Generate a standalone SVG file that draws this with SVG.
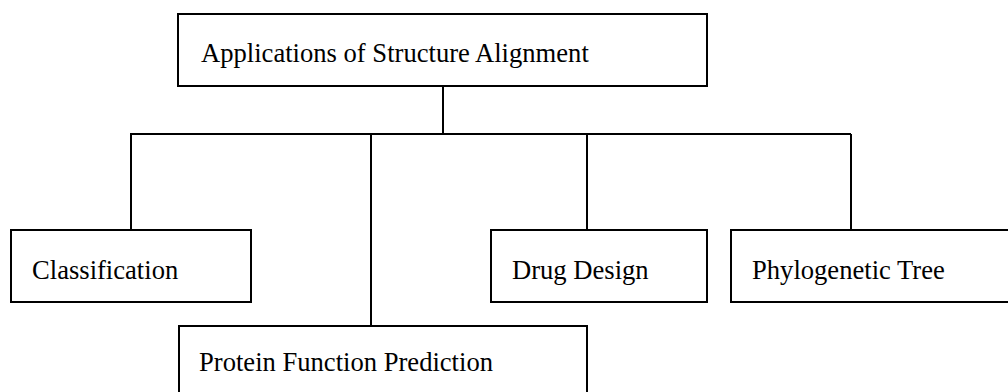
<svg xmlns="http://www.w3.org/2000/svg" width="1008" height="392" viewBox="0 0 1008 392">
  <style>
    .box { fill: #ffffff; stroke: #000000; stroke-width: 2; }
    .link { fill: none; stroke: #000000; stroke-width: 2; }
    .label { font-family: "Liberation Serif", "Times New Roman", serif; font-size: 26.6px; fill: #000000; }
  </style>
  <rect width="1008" height="392" fill="#ffffff"/>

  <!-- tree connectors -->
  <g id="connectors">
    <line class="link" x1="443" y1="86" x2="443" y2="134"/>
    <line class="link" x1="130" y1="134" x2="851" y2="134"/>
    <line class="link" x1="131" y1="134" x2="131" y2="230"/>
    <line class="link" x1="371" y1="134" x2="371" y2="326"/>
    <line class="link" x1="587" y1="134" x2="587" y2="230"/>
    <line class="link" x1="851" y1="134" x2="851" y2="230"/>
  </g>

  <g id="root">
    <rect class="box" x="178" y="14" width="529" height="72"/>
    <text class="label" x="201" y="62">Applications of Structure Alignment</text>
  </g>

  <g id="classification">
    <rect class="box" x="11" y="230" width="240" height="72"/>
    <text class="label" x="32" y="279">Classification</text>
  </g>

  <g id="protein-function">
    <rect class="box" x="179" y="326" width="408" height="72"/>
    <text class="label" x="199" y="371">Protein Function Prediction</text>
  </g>

  <g id="drug-design">
    <rect class="box" x="491" y="230" width="216" height="72"/>
    <text class="label" x="512" y="279">Drug Design</text>
  </g>

  <g id="phylogenetic-tree">
    <rect class="box" x="731" y="230" width="290" height="72"/>
    <text class="label" x="752" y="279">Phylogenetic Tree</text>
  </g>
</svg>
